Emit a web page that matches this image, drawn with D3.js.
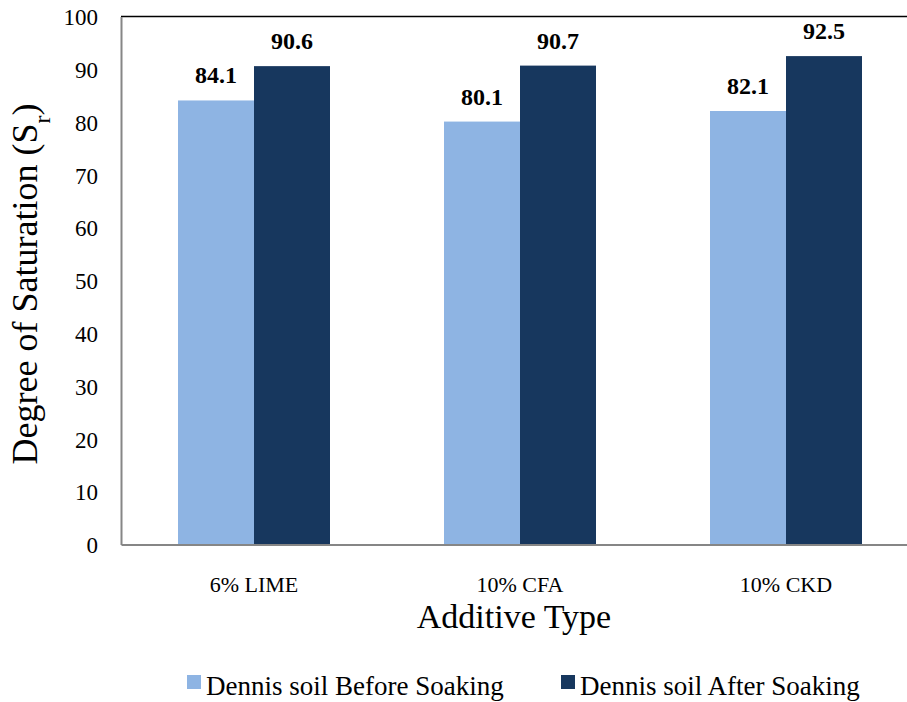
<!DOCTYPE html>
<html>
<head>
<meta charset="utf-8">
<script src="https://cdn.jsdelivr.net/npm/d3@7"></script>
<style>
  html, body { margin: 0; padding: 0; background: #fff; }
  svg { display: block; }
  svg text { font-family: "Times New Roman", "Liberation Serif", Tinos, "DejaVu Serif", serif !important; fill: #000; }
</style>
</head>
<body>
<svg id="chart" width="907" height="702"></svg>
<script>
const categories = ["6% LIME", "10% CFA", "10% CKD"];
const seriesNames = ["Dennis soil Before Soaking", "Dennis soil After Soaking"];
const beforeSoaking = [84.1, 80.1, 82.1];
const afterSoaking = [90.6, 90.7, 92.5];
const yTicks = [0, 10, 20, 30, 40, 50, 60, 70, 80, 90, 100];
const colors = ["#8EB4E3", "#17375E"];

const seriesValues = [beforeSoaking, afterSoaking];
const svg = d3.select("#chart");

const plot = { left: 121, top: 16.5, bottom: 544.5, right: 919 };

const y = d3.scaleLinear().domain([0, 100]).range([plot.bottom, plot.top]);
const x0 = d3.scaleBand().domain(categories).range([plot.left, plot.right]).padding(0);
const x1 = d3.scaleBand().domain(seriesNames).range([0, x0.bandwidth()])
  .paddingInner(0).paddingOuter(0.75);

// Bars
const groups = svg.append("g").selectAll("g")
  .data(categories)
  .join("g")
  .attr("transform", d => `translate(${x0(d)},0)`);

groups.selectAll("rect")
  .data((c, i) => seriesNames.map((s, j) => ({ s, j, v: seriesValues[j][i] })))
  .join("rect")
  .attr("x", d => x1(d.s))
  .attr("width", x1.bandwidth())
  .attr("y", d => y(d.v))
  .attr("height", d => y(0) - y(d.v))
  .attr("fill", d => colors[d.j]);

// Data labels
groups.selectAll("text.val")
  .data((c, i) => seriesNames.map((s, j) => ({ s, j, v: seriesValues[j][i] })))
  .join("text")
  .attr("class", "val")
  .attr("x", d => x1(d.s) + x1.bandwidth() / 2)
  .attr("y", d => y(d.v) - 17)
  .attr("text-anchor", "middle")
  .style("font-size", "24px")
  .style("font-weight", "bold")
  .text(d => d.v.toFixed(1));

// Frame: top and right borders
svg.append("line")
  .attr("x1", plot.left).attr("x2", plot.right)
  .attr("y1", plot.top).attr("y2", plot.top)
  .attr("stroke", "#000").attr("stroke-width", 1.5);
svg.append("line")
  .attr("x1", plot.right).attr("x2", plot.right)
  .attr("y1", plot.top).attr("y2", plot.bottom)
  .attr("stroke", "#000").attr("stroke-width", 1.5);

// Y axis
const yAxis = d3.axisLeft(y).tickValues(yTicks).tickSize(0).tickPadding(23);
const yg = svg.append("g").attr("transform", `translate(${plot.left},0)`).call(yAxis)
  .attr("font-family", null).attr("font-size", null);
yg.select(".domain").attr("stroke", "#868686").attr("stroke-width", 2);
yg.selectAll("text")
  .style("font-size", "23px")
  .attr("dy", "0.36em");

// X axis
const xAxis = d3.axisBottom(x0).tickSize(0).tickPadding(0);
const xg = svg.append("g").attr("transform", `translate(0,${plot.bottom})`).call(xAxis)
  .attr("font-family", null).attr("font-size", null);
xg.select(".domain").attr("stroke", "#868686").attr("stroke-width", 2);
xg.selectAll("text")
  .style("font-size", "22px")
  .attr("dy", null)
  .attr("y", 47);

// Axis titles
svg.append("text")
  .attr("x", 514).attr("y", 628)
  .attr("text-anchor", "middle")
  .style("font-size", "34px")
  .text("Additive Type");

const yTitle = svg.append("text")
  .attr("transform", "translate(37,284) rotate(-90)")
  .attr("text-anchor", "middle")
  .style("font-size", "36px");
yTitle.append("tspan").text("Degree of Saturation (S");
yTitle.append("tspan").attr("baseline-shift", "sub").style("font-size", "24px").text("r");
yTitle.append("tspan").text(")");

// Legend
const legendX = [187, 561];
const legend = svg.append("g").selectAll("g")
  .data(seriesNames)
  .join("g")
  .attr("transform", (d, i) => `translate(${legendX[i]},675)`);
legend.append("rect")
  .attr("width", 14).attr("height", 14)
  .attr("fill", (d, i) => colors[i]);
legend.append("text")
  .attr("x", 19).attr("y", 20)
  .style("font-size", "27px")
  .text(d => d);
</script>
</body>
</html>
